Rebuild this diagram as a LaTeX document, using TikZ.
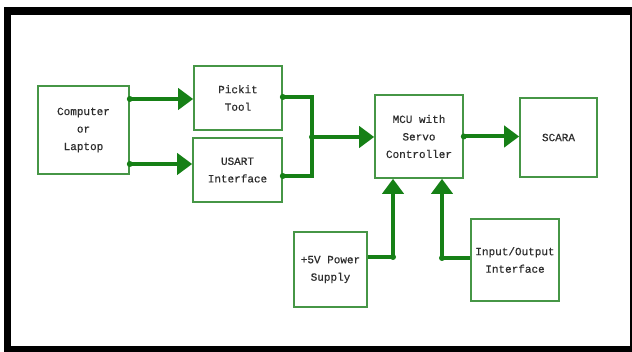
\documentclass[tikz,border=0pt]{standalone}
\usepackage{fontspec}
\newfontfamily\boxfont[FakeBold=0.5]{Liberation Mono}
\usetikzlibrary{arrows.meta,calc}
\definecolor{wire}{RGB}{22,128,22}
\definecolor{edge}{RGB}{70,150,70}
\definecolor{txt}{RGB}{45,45,45}
\begin{document}
\begin{tikzpicture}[x=1pt,y=-1pt,
  blk/.style={draw=edge,line width=1.6pt,fill=white,rectangle,inner sep=0pt,
    align=center,text=txt,font=\boxfont\fontsize{11}{17.5}\selectfont},
  conn/.style={draw=wire,line width=4pt,-{Triangle[length=15pt,width=21pt]}},
  wireln/.style={draw=wire,line width=4pt},
  jdot/.style={fill=wire}]
\useasboundingbox (0,0) rectangle (632,352);
\fill[white] (0,0) rectangle (632,352);
\fill[black] (4,7) rectangle (632,352);
\fill[white] (11,15) rectangle (630,346);
% boxes
\node[blk,minimum width=91pt,minimum height=88pt] (comp) at (83.5,130) {Computer\\or\\Laptop};
\node[blk,minimum width=88pt,minimum height=64pt] (pick) at (238,98) {Pickit\\Tool};
\node[blk,minimum width=89pt,minimum height=64pt] (usart) at (237.5,170) {USART\\Interface};
\node[blk,minimum width=88pt,minimum height=83pt] (mcu) at (419,136.5) {MCU with\\Servo\\Controller};
\node[blk,minimum width=77pt,minimum height=79pt] (scara) at (558.5,137.5) {SCARA};
\node[blk,minimum width=73pt,minimum height=75pt] (power) at (330.5,269.5) {+5V Power\\Supply};
\node[blk,minimum width=88pt,minimum height=82pt] (io) at (515,260) {Input/Output\\Interface};
% helper coordinates
\coordinate (c1) at ([yshift=-1pt]comp.east |- pick.west);
\coordinate (c2) at ([yshift=6pt]comp.east |- usart.west);
\coordinate (p1) at ([yshift=1pt]pick.east);
\coordinate (u1) at ([yshift=-6pt]usart.east);
\coordinate (bus) at (312,137);
\coordinate (m1) at (mcu.east);
\coordinate (pw1) at ([yshift=12.5pt]power.east);
\coordinate (pwc) at (393,257);
\coordinate (io1) at ([yshift=2pt]io.west);
\coordinate (ioc) at (442,258);
% connectors
\draw[conn] (c1) -- (c1 -| pick.west);
\draw[conn] (c2) -- (c2 -| usart.west);
\draw[wireln,line join=miter] (p1) -| (bus) |- (u1);
\draw[conn] (bus) -- (bus -| mcu.west);
\draw[conn] (m1) -- (scara.west |- m1);
\draw[wireln] (pw1) -- (pwc);
\draw[conn] (pwc) -- (pwc |- mcu.south);
\draw[wireln] (io1) -- (ioc);
\draw[conn] (ioc) -- (ioc |- mcu.south);
% dots
\foreach \p in {c1,c2,p1,u1,bus,m1,pwc,ioc}
  \fill[jdot] (\p) circle (3pt);
\end{tikzpicture}
\end{document}
